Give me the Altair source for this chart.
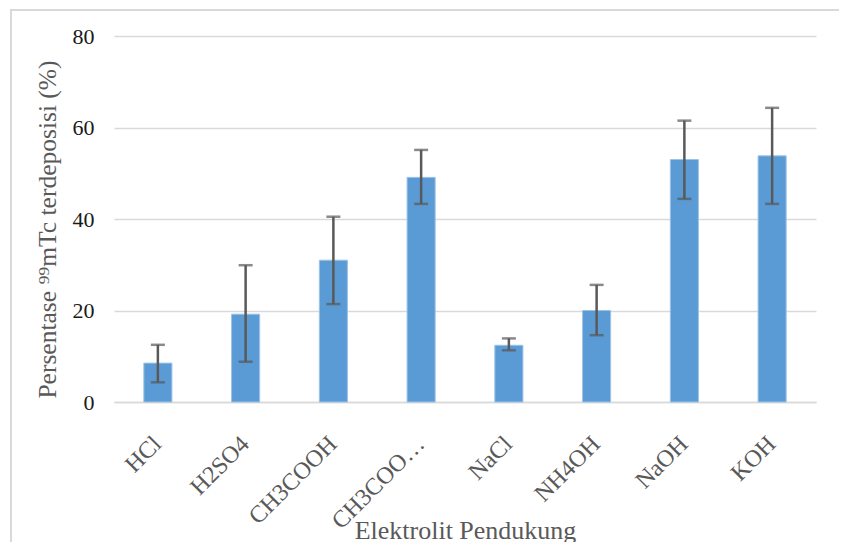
import altair as alt
import pandas as pd

categories = ["HCl", "H2SO4", "CH3COOH", "CH3COO\u2026", "NaCl", "NH4OH", "NaOH", "KOH"]
values = [8.5, 19.2, 31.0, 49.1, 12.4, 20.0, 53.0, 53.8]
err_low = [4.3, 8.8, 21.4, 43.3, 11.3, 14.6, 44.4, 43.3]
err_high = [12.5, 29.9, 40.5, 55.1, 13.9, 25.6, 61.5, 64.3]
y_ticks = [0, 20, 40, 60, 80]

df = pd.DataFrame({"cat": categories, "val": values, "lo": err_low, "hi": err_high})

FONT = "Liberation Serif"
x_scale = alt.Scale(domain=categories, paddingInner=0.68, paddingOuter=0.34)
y_scale = alt.Scale(domain=[0, 80])

x_axis = alt.Axis(
    title="Elektrolit Pendukung",
    labelAngle=-45,
    labelAlign="right",
    labelBaseline="middle",
    labelFont=FONT,
    labelFontSize=24,
    labelColor="#595959",
    labelPadding=38,
    labelLimit=300,
    ticks=False,
    domain=True,
    domainColor="#d9d9d9",
    domainWidth=1.5,
    grid=False,
    titleFont=FONT,
    titleFontSize=26,
    titleFontWeight="normal",
    titleColor="#595959",
    titleY=136,
    titleBaseline="alphabetic",
)

y_axis = alt.Axis(
    title="Persentase \u2079\u2079mTc terdeposisi (%)",
    values=y_ticks,
    labelFont=FONT,
    labelFontSize=22,
    labelColor="#1a1a1a",
    labelPadding=20,
    ticks=False,
    domain=False,
    grid=True,
    gridColor="#d9d9d9",
    gridWidth=1.5,
    titleFont=FONT,
    titleFontSize=25.5,
    titleFontWeight="normal",
    titleColor="#595959",
    titlePadding=12,
    titleY=193,
)

bars = alt.Chart(df).mark_bar(color="#5B9BD5", stroke="#9DC3E6", strokeWidth=1).encode(
    x=alt.X("cat:N", scale=x_scale, axis=x_axis),
    y=alt.Y("val:Q", scale=y_scale, axis=y_axis),
)

rules = alt.Chart(df).mark_rule(color="#595959", strokeWidth=2.5).encode(
    x=alt.X("cat:N", scale=x_scale, axis=x_axis),
    y=alt.Y("lo:Q", scale=y_scale, axis=y_axis),
    y2="hi:Q",
)

cap_hi = alt.Chart(df).mark_tick(color="#595959", thickness=2.5, size=14, orient="horizontal").encode(
    x=alt.X("cat:N", scale=x_scale, axis=x_axis),
    y=alt.Y("hi:Q", scale=y_scale, axis=y_axis),
)
cap_lo = alt.Chart(df).mark_tick(color="#595959", thickness=2.5, size=14, orient="horizontal").encode(
    x=alt.X("cat:N", scale=x_scale, axis=x_axis),
    y=alt.Y("lo:Q", scale=y_scale, axis=y_axis),
)

border = alt.Chart(df).mark_rect(
    fill=None, stroke="#d9d9d9", strokeWidth=2, clip=False
).encode(
    x=alt.value(-103),
    x2=alt.value(780),
    y=alt.value(-26),
    y2=alt.value(560),
)

chart = alt.layer(bars, rules, cap_hi, cap_lo, border).properties(
    width=702,
    height=366,
    background="white",
    padding={"left": 106, "top": 28, "right": 23, "bottom": 140},
    autosize=alt.AutoSizeParams(type="none"),
).configure_view(strokeWidth=0, stroke="transparent")

chart.save("out.html", embed_options={"renderer": "svg", "actions": False})
